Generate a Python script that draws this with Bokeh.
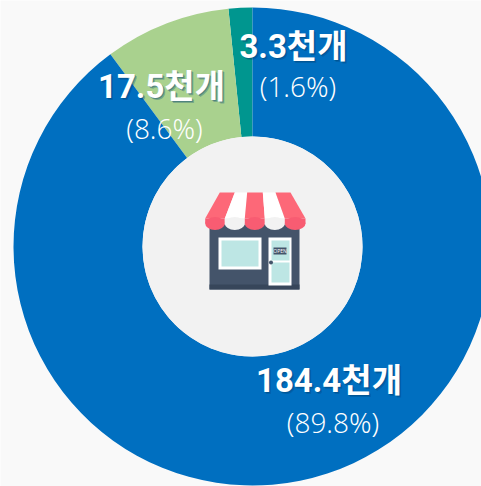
import numpy as np
from bokeh.plotting import figure
from bokeh.models import ColumnDataSource, Range1d
from bokeh.core.properties import value
from bokeh.embed import file_html
from bokeh.resources import INLINE

categories = ["3.3천개", "17.5천개", "184.4천개"]
shares = ["(1.6%)", "(8.6%)", "(89.8%)"]
values = [3.3, 17.5, 184.4]
colors = ["#00968f", "#a9d18e", "#006fc0"]

W, H = 481, 486
BG = "#f9f9f9"


def Y(py):
    return 486 - py


p = figure(width=W, height=H, output_backend="svg", toolbar_location=None,
           x_range=Range1d(0, 481), y_range=Range1d(0, 486), min_border=0,
           background_fill_color=BG, border_fill_color=BG, outline_line_color=None)
p.axis.visible = False
p.grid.visible = False

v = np.array(values)
cum = np.concatenate([[0], np.cumsum(v)]) / v.sum() * 2 * np.pi
src = ColumnDataSource(dict(
    start=np.pi / 2 + cum[:-1], end=np.pi / 2 + cum[1:], color=colors,
    x=[252] * 3, y=[Y(246)] * 3))
p.annular_wedge("x", "y", inner_radius=110, outer_radius=239, start_angle="start", end_angle="end",
                fill_color="color", line_color=None, source=src)
p.scatter([252], [Y(246)], size=220, fill_color="#f2f2f2", line_color=None)

# shop icon
navy, red, red2, glass = "#44546a", "#fd6878", "#f85c72", "#bde6e4"
p.quad(left=209, right=299, top=Y(224), bottom=Y(289), fill_color=navy, line_color=None)
p.quad(left=209, right=299, top=Y(284), bottom=Y(289), fill_color="#37465a", line_color=None)
stripe_top = [219.3, 234.3, 246.7, 262.3, 275, 290]
stripe_bot = [204.7, 224.3, 244.3, 264.3, 284.3, 305]
for i in range(5):
    p.patch([stripe_top[i], stripe_top[i + 1], stripe_bot[i + 1], stripe_bot[i]],
            [Y(192), Y(192), Y(218), Y(218)], fill_color=red if i % 2 == 0 else "#ffffff", line_color=None)
    c = red2 if i % 2 == 0 else "#f2f2f2"
    mid = (stripe_bot[i] + stripe_bot[i + 1]) / 2
    wid = stripe_bot[i + 1] - stripe_bot[i]
    p.ellipse([mid], [Y(223)], width=wid, height=13, fill_color=c, line_color=None)
    p.quad(left=stripe_bot[i], right=stripe_bot[i + 1], top=Y(218), bottom=Y(223), fill_color=c, line_color=None)
p.quad(left=218, right=261, top=Y(237), bottom=Y(269), fill_color="#ffffff", line_color=None)
p.quad(left=221, right=258, top=Y(240), bottom=Y(266), fill_color=glass, line_color=None)
p.quad(left=268, right=291, top=Y(237), bottom=Y(285), fill_color="#ffffff", line_color=None)
p.quad(left=271, right=289, top=Y(240), bottom=Y(260), fill_color=glass, line_color=None)
p.quad(left=271, right=289, top=Y(262), bottom=Y(282), fill_color=glass, line_color=None)
p.quad(left=273, right=286, top=Y(247), bottom=Y(254), fill_color=navy, line_color=None)
p.text([279.5], [Y(250.5)], text=["OPEN"], text_font_size="5px", text_color="#ffffff",
       text_align="center", text_baseline="middle", text_font=value("Open Sans"))
p.scatter([270.5], [Y(262)], size=4, fill_color=navy, line_color=None)

# labels
cx = [293, 161, 328.5]
sx = [297.5, 164, 332.5]
main_y = [46, 86, 380]
sub_y = [85, 127, 421]
main_font = value("Roboto, 'Noto Sans CJK KR'")
for dx, dy, col, al in [(2, 2, "#003f70", 0.3), (1, 1, "#003f70", 0.35), (0, 0, "#ffffff", 1)]:
    p.text(cx, [Y(y) for y in main_y], text=categories, x_offset=dx, y_offset=dy, text_color=col, text_alpha=al,
           text_font=main_font, text_font_style="bold", text_font_size="33px",
           text_align="center", text_baseline="middle")
p.text(sx, [Y(y) for y in sub_y], text=shares, text_color="#ffffff", text_font=value("Open Sans Light"),
       text_font_size="28px", text_align="center", text_baseline="middle")

open("out.html", "w").write(file_html(p, INLINE))
